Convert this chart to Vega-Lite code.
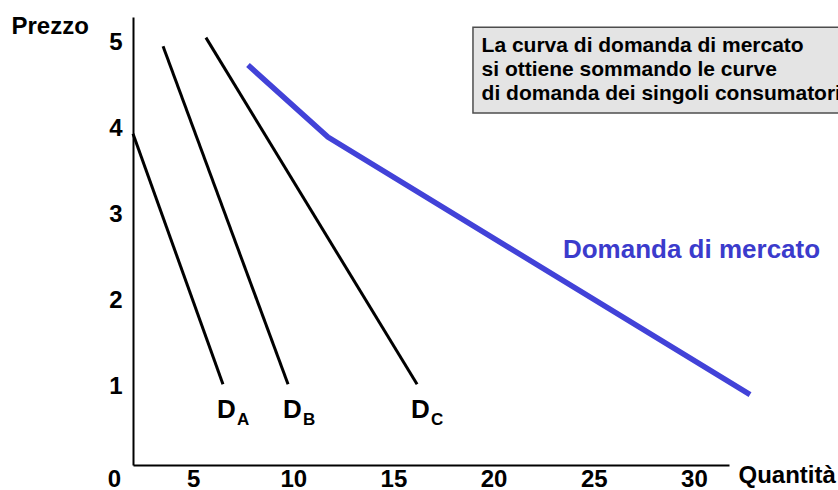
{
  "$schema": "https://vega.github.io/schema/vega-lite/v6.json",
  "width": 596,
  "height": 448,
  "autosize": {"type": "none"},
  "padding": {"left": 133, "top": 17, "right": 109, "bottom": 25},
  "background": "white",
  "config": {"view": {"stroke": null}, "font": "Liberation Sans"},
  "datasets": {
    "curves": [
      {"curve": "D_A", "q": 2.0, "p": 3.94},
      {"curve": "D_A", "q": 6.49, "p": 1.02},
      {"curve": "D_B", "q": 3.5, "p": 4.96},
      {"curve": "D_B", "q": 9.74, "p": 1.02},
      {"curve": "D_C", "q": 5.64, "p": 5.06},
      {"curve": "D_C", "q": 16.18, "p": 1.02}
    ],
    "market": [
      {"curve": "Domanda di mercato", "q": 7.74, "p": 4.74},
      {"curve": "Domanda di mercato", "q": 11.73, "p": 3.9},
      {"curve": "Domanda di mercato", "q": 32.8, "p": 0.9}
    ],
    "curveLabels": [
      {"main": "D", "sub": "A", "q": 6.19, "p": 0.63},
      {"main": "D", "sub": "B", "q": 9.49, "p": 0.63},
      {"main": "D", "sub": "C", "q": 15.88, "p": 0.63}
    ],
    "box": [
      {"q": 18.97, "q2": 40, "p": 5.18, "p2": 4.18, "text": "La curva di domanda di mercato\nsi ottiene sommando le curve\ndi domanda dei singoli consumatori", "tq": 19.4, "tp": 4.896}
    ],
    "marketLabel": [
      {"text": "Domanda di mercato", "q": 23.46, "p": 2.49}
    ],
    "origin": [
      {"text": "0", "q": 2, "p": 0.08}
    ]
  },
  "encoding": {
    "x": {
      "field": "q",
      "type": "quantitative",
      "scale": {"domain": [2, 31.75], "nice": false, "zero": false},
      "axis": {
        "values": [5, 10, 15, 20, 25, 30],
        "ticks": false,
        "tickSize": 0,
        "grid": false,
        "domainColor": "black",
        "domainWidth": 2,
        "labelFont": "Liberation Sans",
        "labelFontSize": 24,
        "labelFontWeight": "bold",
        "labelColor": "black",
        "labelBaseline": "middle",
        "labelPadding": 14,
        "labelFlush": false,
        "labelOverlap": false,
        "title": "Quantità",
        "titleFont": "Liberation Sans",
        "titleFontSize": 24,
        "titleFontWeight": "bold",
        "titleColor": "black",
        "titleAlign": "left",
        "titleBaseline": "alphabetic",
        "titleAnchor": "start",
        "titleX": 605,
        "titleY": 17
      }
    },
    "y": {
      "field": "p",
      "type": "quantitative",
      "scale": {"domain": [0.08, 5.3], "nice": false, "zero": false},
      "axis": {
        "values": [1, 2, 3, 4, 5],
        "ticks": false,
        "tickSize": 0,
        "grid": false,
        "domainColor": "black",
        "domainWidth": 2,
        "labelFont": "Liberation Sans",
        "labelFontSize": 24,
        "labelFontWeight": "bold",
        "labelColor": "black",
        "labelPadding": 11,
        "labelOverlap": false,
        "title": "Prezzo",
        "titleFont": "Liberation Sans",
        "titleFontSize": 24,
        "titleFontWeight": "bold",
        "titleColor": "black",
        "titleAngle": 0,
        "titleAlign": "left",
        "titleBaseline": "alphabetic",
        "titleAnchor": "start",
        "titleX": -122,
        "titleY": 16
      }
    }
  },
  "layer": [
    {
      "data": {"name": "box"},
      "mark": {"type": "rect", "fill": "#e4e4e4", "stroke": "#4d4d4d", "strokeWidth": 1.5},
      "encoding": {"x2": {"field": "q2"}, "y2": {"field": "p2"}}
    },
    {
      "data": {"name": "box"},
      "mark": {"type": "text", "align": "left", "baseline": "alphabetic", "fontSize": 21, "fontWeight": "bold", "color": "black", "lineBreak": "\n", "lineHeight": 24},
      "encoding": {
        "x": {"field": "tq", "type": "quantitative"},
        "y": {"field": "tp", "type": "quantitative"},
        "text": {"field": "text"}
      }
    },
    {
      "data": {"name": "curves"},
      "mark": {"type": "line", "color": "black", "strokeWidth": 3},
      "encoding": {"detail": {"field": "curve"}}
    },
    {
      "data": {"name": "market"},
      "mark": {"type": "line", "color": "#4242d8", "strokeWidth": 5.5, "strokeJoin": "miter"},
      "encoding": {"detail": {"field": "curve"}}
    },
    {
      "data": {"name": "curveLabels"},
      "mark": {"type": "text", "align": "left", "baseline": "alphabetic", "fontSize": 26, "fontWeight": "bold", "color": "black"},
      "encoding": {"text": {"field": "main"}}
    },
    {
      "data": {"name": "curveLabels"},
      "mark": {"type": "text", "align": "left", "baseline": "alphabetic", "fontSize": 17, "fontWeight": "bold", "color": "black", "dx": 20, "dy": 7},
      "encoding": {"text": {"field": "sub"}}
    },
    {
      "data": {"name": "marketLabel"},
      "mark": {"type": "text", "align": "left", "baseline": "alphabetic", "fontSize": 26, "fontWeight": "bold", "color": "#3b3bcc"},
      "encoding": {"text": {"field": "text"}}
    },
    {
      "data": {"name": "origin"},
      "mark": {"type": "text", "align": "right", "baseline": "alphabetic", "fontSize": 24, "fontWeight": "bold", "color": "black", "dx": -12, "dy": 22},
      "encoding": {"text": {"field": "text"}}
    }
  ]
}
